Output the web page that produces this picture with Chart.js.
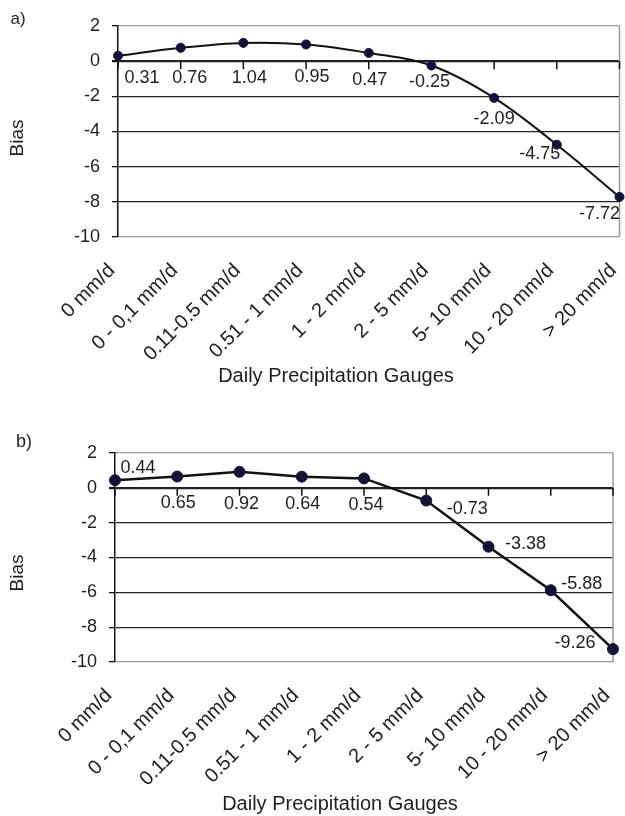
<!DOCTYPE html>
<html>
<head>
<meta charset="utf-8">
<script src="https://cdn.jsdelivr.net/npm/chart.js@4"></script>
<style>
  html, body { margin: 0; padding: 0; background: #fff; }
  #wrap { position: relative; width: 625px; height: 816px; }
  .panel { position: absolute; left: 0; width: 625px; height: 408px; }
</style>
</head>
<body>
<div id="wrap">
  <div class="panel" style="top:0"><canvas id="chartA" width="625" height="408"></canvas></div>
  <div class="panel" style="top:408px"><canvas id="chartB" width="625" height="408"></canvas></div>
</div>
<script>
// Rain-gauge classes (x axis)
const categories = ['0 mm/d', '0 - 0,1 mm/d', '0.11-0.5 mm/d', '0.51 - 1 mm/d', '1 - 2 mm/d',
                    '2 - 5 mm/d', '5- 10 mm/d', '10 - 20 mm/d', '> 20 mm/d'];
// Bias per class, panel a) and panel b)
const biasA = [0.31, 0.76, 1.04, 0.95, 0.47, -0.25, -2.09, -4.75, -7.72];
const biasB = [0.44, 0.65, 0.92, 0.64, 0.54, -0.73, -3.38, -5.88, -9.26];
// Value axis range and step
const yMin = -10, yMax = 2, yStep = 2;

const yTitle = 'Bias';
const xTitle = 'Daily Precipitation Gauges';

// Where each value label sits relative to its point (dx, dy in px)
const labelShiftA = [[24, 22], [9, 30], [6, 35], [6, 33], [1, 27], [-2, 16], [0, 21], [-17, 9], [-20, 17]];
const labelShiftB = [[23, -12], [1, 27], [2, 32], [1, 27], [2, 27], [41, 8], [37, -3], [31, -6], [-38, -6]];

const FONT = '"Liberation Sans", Arial, Helvetica, sans-serif';
const INK = '#1e1e1e';

function decorPlugin(opt) {
  return {
    id: 'decor',
    beforeDatasetsDraw(chart) {
      const { ctx, chartArea, scales } = chart;
      const y0 = scales.y.getPixelForValue(0);
      ctx.save();
      // right edge of the plot frame
      ctx.strokeStyle = '#9a9a9a';
      ctx.lineWidth = 1.5;
      ctx.beginPath();
      ctx.moveTo(chartArea.right, chartArea.top);
      ctx.lineTo(chartArea.right, chartArea.bottom);
      ctx.stroke();
      // category tick marks hanging under the zero line
      ctx.strokeStyle = '#111';
      ctx.lineWidth = 1.5;
      categories.forEach((c, i) => {
        const x = scales.x.getPixelForValue(i);
        ctx.beginPath();
        ctx.moveTo(x, y0);
        ctx.lineTo(x, y0 + 8);
        ctx.stroke();
      });
      ctx.restore();
    },
    afterDatasetsDraw(chart) {
      const { ctx } = chart;
      const meta = chart.getDatasetMeta(0);
      const values = chart.data.datasets[0].data;
      ctx.save();
      ctx.font = '18px ' + FONT;
      ctx.fillStyle = INK;
      ctx.textAlign = 'center';
      ctx.textBaseline = 'middle';
      meta.data.forEach((pt, i) => {
        const [dx, dy] = opt.shifts[i];
        ctx.fillText(values[i].toFixed(2), pt.x + dx, pt.y + dy);
      });
      ctx.restore();
    },
    afterDraw(chart) {
      const { ctx } = chart;
      ctx.save();
      ctx.fillStyle = INK;
      ctx.textAlign = 'center';
      ctx.textBaseline = 'middle';
      // panel letter
      ctx.font = opt.letterSize + 'px ' + FONT;
      ctx.fillText(opt.letter, opt.letterPos[0], opt.letterPos[1]);
      // axis titles
      ctx.font = '20px ' + FONT;
      ctx.fillText(xTitle, opt.xTitlePos[0], opt.xTitlePos[1]);
      ctx.translate(opt.yTitlePos[0], opt.yTitlePos[1]);
      ctx.rotate(-Math.PI / 2);
      ctx.font = '19px ' + FONT;
      ctx.fillText(yTitle, 0, 0);
      ctx.restore();
    }
  };
}

function makeChart(id, values, opt) {
  return new Chart(document.getElementById(id), {
    type: 'line',
    data: {
      labels: categories,
      datasets: [{
        data: values,
        borderColor: '#111',
        borderWidth: opt.lineWidth,
        tension: opt.tension,
        pointRadius: opt.pointRadius,
        pointBackgroundColor: '#13133a',
        pointBorderColor: '#13133a',
        pointBorderWidth: 1,
        clip: false
      }]
    },
    options: {
      responsive: false,
      animation: false,
      devicePixelRatio: 1,
      layout: { padding: { top: opt.top, right: opt.right, left: 0, bottom: 0 } },
      plugins: { legend: { display: false }, tooltip: { enabled: false } },
      scales: {
        x: {
          type: 'category',
          offset: false,
          grid: { display: false },
          border: { display: false },
          ticks: {
            autoSkip: false,
            minRotation: 45,
            maxRotation: 45,
            padding: opt.labelPad,
            labelOffset: -6,
            color: INK,
            font: { family: FONT, size: 20 }
          },
          afterFit(scale) {
            scale.height = 408 - opt.bottom;
            scale.paddingLeft = 0;
            scale.paddingRight = 0;
          }
        },
        y: {
          min: yMin,
          max: yMax,
          ticks: {
            stepSize: yStep,
            padding: 12,
            color: INK,
            font: { family: FONT, size: 18 }
          },
          grid: {
            drawTicks: true,
            tickLength: 6,
            tickColor: '#111',
            color: (c) => (c.tick && (c.tick.value === yMax || c.tick.value === yMin)) ? '#9a9a9a' : '#222',
            lineWidth: (c) => (c.tick && c.tick.value === 0) ? 2.2 : 1.3
          },
          border: { display: true, color: '#111', width: 1.5 },
          afterFit(scale) {
            scale.width = opt.left;
            scale.paddingTop = 0;
            scale.paddingBottom = 0;
          }
        }
      }
    },
    plugins: [decorPlugin(opt)]
  });
}

makeChart('chartA', biasA, {
  top: 26, bottom: 237, left: 118, right: 2,
  tension: 0.35, lineWidth: 2, pointRadius: 4.5, labelPad: 14,
  shifts: labelShiftA,
  letter: 'a)', letterSize: 17, letterPos: [18, 19],
  xTitlePos: [336, 376], yTitlePos: [18, 138]
});

makeChart('chartB', biasB, {
  top: 45, bottom: 254, left: 115, right: 12,
  tension: 0, lineWidth: 2.5, pointRadius: 5.5, labelPad: 14,
  shifts: labelShiftB,
  letter: 'b)', letterSize: 18, letterPos: [24, 34],
  xTitlePos: [340, 396], yTitlePos: [18, 165]
});
</script>
</body>
</html>
